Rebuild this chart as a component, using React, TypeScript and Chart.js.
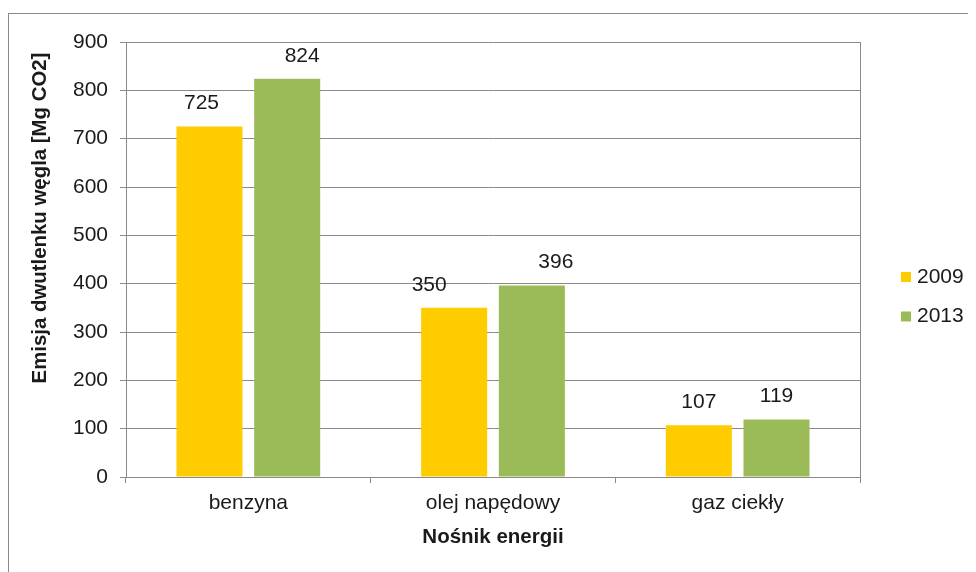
import React, { useEffect, useRef } from "react";
import { Chart, registerables } from "chart.js";

Chart.register(...registerables);

const categories = ["benzyna", "olej napędowy", "gaz ciekły"];
const seriesNames = ["2009", "2013"];
const values2009 = [725, 350, 107];
const values2013 = [824, 396, 119];
const yTicks = [0, 100, 200, 300, 400, 500, 600, 700, 800, 900];
const yTitle = "Emisja dwutlenku węgla [Mg CO2]";
const xTitle = "Nośnik energii";

const COLORS = ["#FFCC00", "#9BBB59"];
const FONT = "'Liberation Sans', Arial, sans-serif";
const TEXT = "#1a1a1a";
const GRID = "#8a8a8a";
// manual horizontal nudges of value labels (as placed in the original)
const LABEL_SHIFT = [
  [-8, -25, 0],
  [15, 24, 0],
];

const extrasPlugin = {
  id: "extras",
  afterDatasetsDraw(chart: any) {
    const { ctx, chartArea } = chart;
    ctx.save();
    // right border of plot area
    ctx.strokeStyle = GRID;
    ctx.lineWidth = 1;
    ctx.beginPath();
    ctx.moveTo(Math.round(chartArea.right) + 0.5, chartArea.top);
    ctx.lineTo(Math.round(chartArea.right) + 0.5, chartArea.bottom);
    ctx.stroke();
    // value labels
    ctx.font = `21px ${FONT}`;
    ctx.fillStyle = TEXT;
    ctx.textAlign = "center";
    ctx.textBaseline = "middle";
    chart.data.datasets.forEach((ds: any, di: number) => {
      const meta = chart.getDatasetMeta(di);
      meta.data.forEach((bar: any, i: number) => {
        ctx.fillText(String(ds.data[i]), bar.x + LABEL_SHIFT[di][i], bar.y - 23);
      });
    });
    // legend
    const lx = chartArea.right + 41;
    chart.data.datasets.forEach((ds: any, di: number) => {
      const cy = 263 + di * 39.5;
      ctx.fillStyle = ds.backgroundColor;
      ctx.fillRect(lx, cy - 5, 10, 10);
      ctx.fillStyle = TEXT;
      ctx.textAlign = "left";
      ctx.fillText(ds.label, lx + 16, cy);
    });
    // y axis title (placed as in the original, above the plot centre)
    ctx.translate(31, 204);
    ctx.rotate(-Math.PI / 2);
    ctx.font = `bold 20.4px ${FONT}`;
    ctx.textAlign = "center";
    ctx.fillStyle = TEXT;
    ctx.fillText(yTitle, 0, 0);
    ctx.restore();
  },
};

export default function App() {
  const ref = useRef<HTMLCanvasElement>(null);
  useEffect(() => {
    document.documentElement.style.overflow = "hidden";
    const chart = new Chart(ref.current as HTMLCanvasElement, {
      type: "bar",
      data: {
        labels: categories,
        datasets: [
          { label: seriesNames[0], data: values2009, backgroundColor: COLORS[0] },
          { label: seriesNames[1], data: values2013, backgroundColor: COLORS[1] },
        ],
      },
      options: {
        animation: false,
        responsive: false,
        layout: { padding: { top: 28, right: 116, left: 0, bottom: 0 } },
        datasets: { bar: { categoryPercentage: 0.635, barPercentage: 0.85 } } as any,
        plugins: { legend: { display: false }, tooltip: { enabled: false } },
        scales: {
          x: {
            afterFit: (s: any) => { s.height = 95; },
            grid: { drawOnChartArea: false, drawTicks: true, tickLength: 6, color: GRID, offset: true },
            border: { color: GRID },
            ticks: { color: TEXT, font: { family: FONT, size: 21 }, padding: 8 },
            title: {
              display: true,
              text: xTitle,
              color: TEXT,
              font: { family: FONT, size: 20.5, weight: "bold" },
              padding: { top: 0, bottom: 22 },
            },
          },
          y: {
            min: 0,
            max: 900,
            afterFit: (s: any) => { s.width = 117; },
            afterBuildTicks: (s: any) => { s.ticks = yTicks.map((v) => ({ value: v })); },
            grid: { color: GRID, tickLength: 6, drawTicks: true },
            border: { color: GRID },
            ticks: { color: TEXT, font: { family: FONT, size: 21 }, padding: 12 },
          },
        },
      },
      plugins: [extrasPlugin],
    });
    return () => chart.destroy();
  }, []);
  return (
    <div
      style={{
        marginTop: 5,
        width: 968,
        height: 559,
        borderTop: "1px solid #8a8a8a",
        borderLeft: "1px solid #8a8a8a",
        overflow: "hidden",
        boxSizing: "border-box",
      }}
    >
      <canvas ref={ref} width={967} height={558} style={{ display: "block" }} />
    </div>
  );
}
